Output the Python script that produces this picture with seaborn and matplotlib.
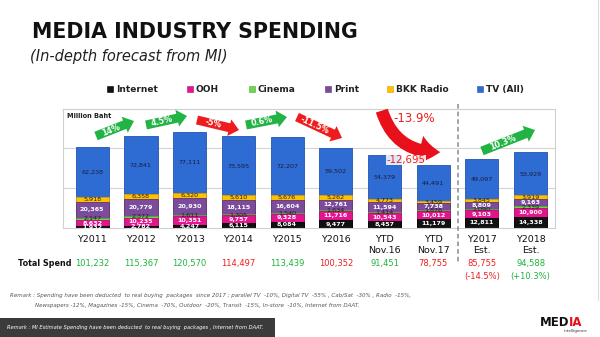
import math
import numpy as np
import matplotlib
matplotlib.use("Agg")
import matplotlib.pyplot as plt
from matplotlib.patches import FancyArrow, FancyArrowPatch, Rectangle
import seaborn as sns

# ---------------- data ----------------
categories = ["Y2011", "Y2012", "Y2013", "Y2014", "Y2015", "Y2016",
              "YTD\nNov.16", "YTD\nNov.17", "Y2017\nEst.", "Y2018\nEst."]
internet = [1932, 2782, 4247, 6115, 8084, 9477, 8457, 11179, 12811, 14338]
ooh      = [8632, 10235, 10351, 9757, 9328, 11716, 10543, 10012, 9103, 10900]
cinema   = [2147, 2372, 1611, 1305, 1540, 1634, 1414, 1876, 2090, 2339]
print_   = [20365, 20779, 20930, 18115, 16604, 12761, 11594, 7738, 8809, 9163]
radio    = [5918, 6358, 6320, 5610, 5676, 5262, 4773, 3459, 3845, 3919]
tv       = [62238, 72841, 77111, 73595, 72207, 59502, 54379, 44491, 49097, 53929]
total_spend = [101232, 115367, 120570, 114497, 113439, 100352, 91451, 78755, 85755, 94588]
total_up    = [True, True, True, False, True, False, True, False, False, True]
est_change  = ["", "", "", "", "", "", "", "", "(-14.5%)", "(+10.3%)"]
growth_labels = ["14%", "4.5%", "-5%", "0.6%", "-11.5%"]
series_names = ["Internet", "OOH", "Cinema", "Print", "BKK Radio", "TV (All)"]

# ---------------- style ----------------
sns.set_theme(style="white")
plt.rcParams["font.family"] = ["DejaVu Sans"]

colors = {"Internet": "#111111", "OOH": "#E3158E", "Cinema": "#72D34C",
          "Print": "#7B4B9C", "BKK Radio": "#FFC000", "TV (All)": "#2E6CD3"}
edges = {"Internet": "#000000", "OOH": "#B80F72", "Cinema": "#4FA832",
         "Print": "#5E3579", "BKK Radio": "#D9A000", "TV (All)": "#2255B0"}
label_color = {"Internet": "white", "OOH": "white", "Cinema": "#222222",
               "Print": "white", "BKK Radio": "#222222", "TV (All)": "#1B1B3A"}
GREEN = "#1DB33B"
RED = "#F01C1C"

fig = plt.figure(figsize=(6.0, 3.37), dpi=100)
W, H = 600, 337
ax = fig.add_axes([63 / W, (H - 228) / H, (555 - 63) / W, (228 - 109) / H])

series = [internet, ooh, cinema, print_, radio, tv]
stack = np.cumsum(np.array(series, dtype=float), axis=0)

# draw from top of stack down (over-painting gives stacked bars)
for i in range(len(series) - 1, -1, -1):
    name = series_names[i]
    sns.barplot(x=categories, y=stack[i], order=categories, color=colors[name],
                saturation=1, width=0.68, edgecolor=edges[name], linewidth=0.6,
                ax=ax, zorder=2)

# segment labels
for i, name in enumerate(series_names):
    vals = series[i]
    bottoms = stack[i] - np.array(vals)
    for j, v in enumerate(vals):
        y = bottoms[j] + v / 2
        fw = "bold" if name in ("Internet", "OOH", "Print") else "normal"
        ax.text(j, y, f"{v:,}", ha="center", va="center", fontsize=4.6,
                color=label_color[name], fontweight=fw, zorder=4)

ax.set_xlim(-0.6, 9.5)
ax.set_ylim(0, 148750)
ax.set_yticks([50000, 100000])
ax.set_yticklabels([])
ax.tick_params(axis="y", length=0)
ax.yaxis.grid(True, color="#d4d4d4", linewidth=0.8, zorder=0)
ax.set_axisbelow(True)
ax.set_ylabel("")
ax.set_xticks(range(len(categories)))
ax.set_xticklabels(categories, fontsize=6.8, color="#111111", linespacing=1.35)
ax.tick_params(axis="x", length=0, pad=5)
for s in ax.spines.values():
    s.set_color("#d0d0d0")
    s.set_linewidth(0.8)
ax.text(0.008, 0.97, "Million Baht", transform=ax.transAxes, fontsize=4.8,
        fontweight="bold", color="#222222", va="top", ha="left")

# totals row
tr = ax.get_xaxis_transform()
for j, (t, up) in enumerate(zip(total_spend, total_up)):
    ax.text(j, -0.30, f"{t:,}", transform=tr, ha="center", va="center",
            fontsize=6.0, color=GREEN if up else RED, clip_on=False)
    if est_change[j]:
        ax.text(j, -0.405, est_change[j], transform=tr, ha="center", va="center",
                fontsize=6.0, color=GREEN if "+" in est_change[j] else RED, clip_on=False)

# ---------------- overlay (pixel coordinates) ----------------
ov = fig.add_axes([0, 0, 1, 1], zorder=5)
ov.set_xlim(0, W)
ov.set_ylim(H, 0)
ov.axis("off")
ov.patch.set_alpha(0)

ov.text(32, 32, "MEDIA INDUSTRY SPENDING", fontsize=14.8, fontweight="bold",
        color="#111111", va="center", ha="left")
ov.text(30, 57, "(In-depth forecast from MI)", fontsize=10.5, style="italic",
        color="#222222", va="center", ha="left")

# legend
leg_pos = [110, 190, 252, 328, 390, 480]
for x, name in zip(leg_pos, series_names):
    ov.add_patch(Rectangle((x - 3, 86), 6, 6, facecolor=colors[name],
                           edgecolor=edges[name], linewidth=0.4))
    ov.text(x + 6, 89.5, name, fontsize=6.5, fontweight="bold", color="#222222",
            va="center", ha="left")

# growth arrows
def block_arrow(x0, y0, x1, y1, color, text):
    dx, dy = x1 - x0, y1 - y0
    ov.add_patch(FancyArrow(x0, y0, dx, dy, width=9, head_width=17, head_length=10,
                            length_includes_head=True, color=color, linewidth=0))
    ang = math.degrees(math.atan2(-dy, dx))
    f = 0.40
    ov.text(x0 + dx * f, y0 + dy * f, text, rotation=ang, rotation_mode="anchor",
            ha="center", va="center", fontsize=5.8, color="white", fontweight="bold")

ARROW_G = "#22B345"
ARROW_R = "#EE1C1C"
block_arrow(96, 136, 134, 121, ARROW_G, growth_labels[0])
block_arrow(146, 125, 187, 116, ARROW_G, growth_labels[1])
block_arrow(197, 120, 239, 130, ARROW_R, growth_labels[2])
block_arrow(246, 125, 287, 117, ARROW_G, growth_labels[3])
block_arrow(297, 117, 342, 138, ARROW_R, growth_labels[4])
block_arrow(482, 151, 535, 130, ARROW_G, "10.3%")

# big curved arrow
ov.add_patch(FancyArrowPatch((381, 108), (443, 152), connectionstyle="arc3,rad=0.4",
                             arrowstyle="simple,head_width=21,head_length=15,tail_width=9",
                             mutation_scale=1, color="#E8101A", linewidth=0))
ov.text(414, 118, "-13.9%", fontsize=8.5, color=RED, ha="center", va="center")
ov.text(406, 160, "-12,695", fontsize=7.3, color=RED, ha="center", va="center",
        bbox=dict(facecolor="white", edgecolor="none", pad=0.3, alpha=0.85))

# dashed separator
ov.plot([457.5, 457.5], [104, 262], color="#8a8a8a", linestyle=(0, (3, 2)), linewidth=1.1)

# total spend label
ov.text(18, 264, "Total Spend", fontsize=5.8, fontweight="bold", color="#111111",
        va="center", ha="left")

# remarks
ov.text(10, 296, "Remark : Spending have been deducted  to real buying  packages  since 2017 ; parallel TV  -10%, "
                 "Digital TV  -55% , Cab/Sat  -30% , Radio  -15%,",
        fontsize=3.95, style="italic", color="#555555", va="center", ha="left")
ov.text(35, 306, "Newspapers -12%, Magazines -15%, Cinema  -70%, Outdoor  -20%, Transit  -15%, "
                 "In-store  -10%, Internet from DAAT.",
        fontsize=3.95, style="italic", color="#555555", va="center", ha="left")

ov.add_patch(Rectangle((0, 318), 275, 19, facecolor="#3b3b3b", edgecolor="none"))
ov.text(7, 327.5, "Remark : MI Estimate Spending have been deducted  to real buying  packages , "
                  "Internet from DAAT.",
        fontsize=3.7, style="italic", color="white", va="center", ha="left")

# logo
ov.text(540, 322, "MED", fontsize=8.5, fontweight="bold", color="#111111", va="center", ha="left")
ov.text(568.5, 322, "IA", fontsize=8.5, fontweight="bold", color="#E3101A", va="center", ha="left")
ov.text(564, 331, "intelligence", fontsize=3, color="#333333", va="center", ha="left")

# page edge line
ov.plot([598, 598], [0, 300], color="#dddddd", linewidth=0.8)

fig.savefig("out.png", dpi=100)
